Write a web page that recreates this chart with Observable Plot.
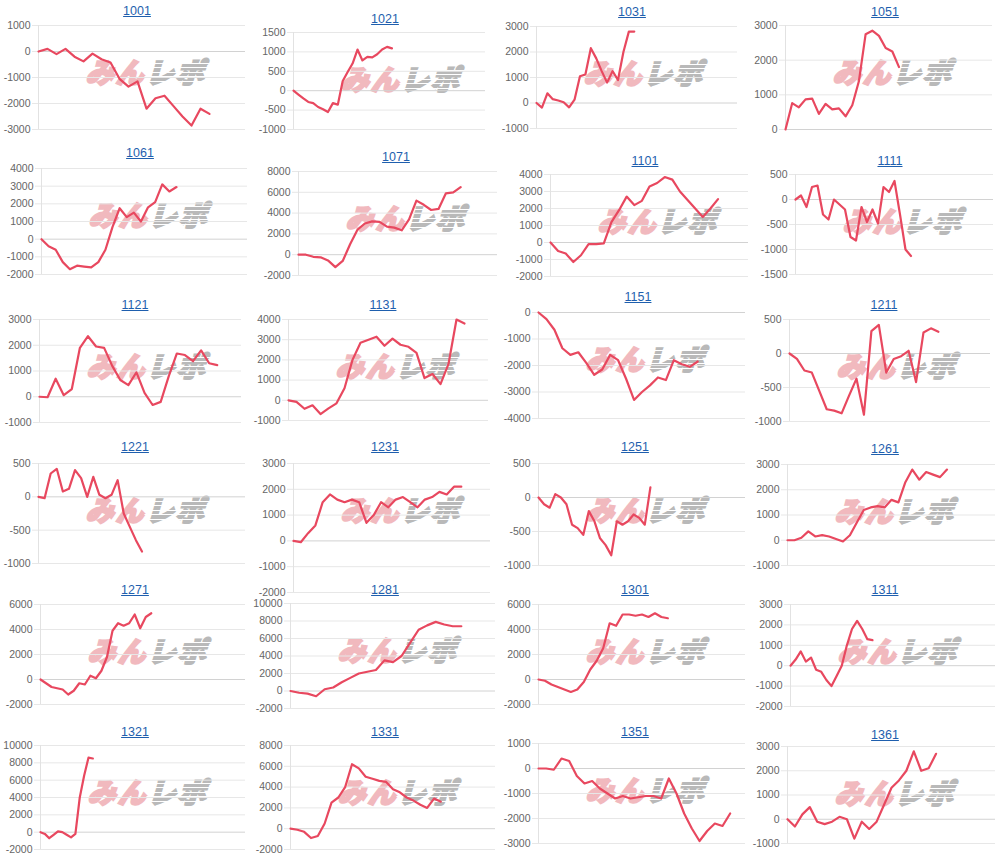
<!DOCTYPE html>
<html><head><meta charset="utf-8">
<script src="https://cdn.jsdelivr.net/npm/d3@7"></script>
<script src="https://cdn.jsdelivr.net/npm/@observablehq/plot@0.6"></script>
<style>
body{margin:0;background:#fff;}
#root{position:relative;width:1000px;height:857px;overflow:hidden;font-family:"Liberation Sans",Arial,sans-serif;}
.title{position:absolute;transform:translate(-50%,-50%);color:#1f5fae;text-decoration:underline;font-size:12.5px;white-space:nowrap;z-index:3;}
.wm{position:absolute;transform:translate(-50%,-50%) skewX(-16deg);font-family:"Noto Sans CJK JP";font-weight:900;font-size:28px;white-space:nowrap;letter-spacing:2px;line-height:1;z-index:1;}
.wm .a{color:#f1b9be;-webkit-text-stroke:2.2px #f1b9be;}
.wm .b{position:relative;display:inline-block;color:#b9b9b9;-webkit-text-stroke:2.2px #b9b9b9;}
.wm .b::after{content:"";position:absolute;left:-3px;right:-3px;top:2px;bottom:2px;background:repeating-linear-gradient(180deg,rgba(255,255,255,0) 0 3.6px,#fff 3.6px 4.6px);}
.plot{position:absolute;z-index:2;}
</style></head>
<body><div id="root"></div>
<script>
// ---- categories (panel names) ----
const names = ["1001","1021","1031","1051","1061","1071","1101","1111","1121","1131","1151","1211",
               "1221","1231","1251","1261","1271","1281","1301","1311","1321","1331","1351","1361"];

// ---- series values ----
const v1001 = [0,100,-100,100,-200,-380,-80,-300,-420,-1050,-1350,-1150,-2200,-1800,-1700,-2100,-2500,-2850,-2200,-2400];
const v1021 = [0,-100,-200,-290,-320,-420,-480,-550,-320,-360,250,480,700,1060,780,870,860,940,1060,1130,1090];
const v1031 = [0,-180,380,150,100,30,-170,130,1050,1120,2150,1750,1250,800,1250,900,2000,2800,2800];
const v1051 = [0,760,640,870,890,450,740,580,610,380,700,1400,2750,2850,2700,2350,2250,1800];
const v1061 = [0,-400,-600,-1300,-1700,-1500,-1550,-1600,-1300,-600,700,1750,1250,1500,1000,1800,2100,3100,2700,2950];
const v1071 = [0,0,-200,-250,-550,-1200,-600,1000,2400,3000,3200,3150,2700,2600,2350,3400,5200,4800,4300,4400,5900,6000,6500];
const v1101 = [0,-500,-650,-1150,-750,-100,-100,-50,1200,1900,2700,2200,2450,3300,3500,3850,3700,3000,2500,2000,1500,2000,2550];
const v1111 = [0,80,-150,250,280,-300,-400,0,-100,-200,-750,-820,-150,-450,-200,-480,250,150,370,-300,-1000,-1130];
const v1121 = [0,-20,700,60,300,1900,2350,1950,1900,1200,650,450,950,150,-320,-200,800,1680,1620,1380,1800,1300,1230];
const v1131 = [0,-80,-420,-250,-680,-400,-150,600,2000,2850,3000,3150,2700,3050,2750,2650,2350,1100,1300,800,1800,4000,3800];
const v1151 = [0,-250,-650,-1350,-1600,-1500,-1900,-2350,-2150,-1600,-1800,-2500,-3300,-3000,-2750,-2450,-2550,-1800,-1950,-2050,-1850];
const v1211 = [0,-80,-250,-280,-550,-820,-840,-880,-620,-370,-900,330,420,-280,-80,-40,40,-420,310,370,320];
const v1221 = [0,-20,350,420,80,120,400,280,0,300,30,-20,30,250,-250,-450,-650,-820];
const v1231 = [0,-50,300,600,1500,1800,1600,1500,1600,1500,700,1000,1500,1300,1600,1700,1500,1300,1600,1700,1900,1800,2100,2100];
const v1251 = [0,-100,-150,50,0,-100,-400,-450,-550,-200,-350,-600,-700,-850,-350,-400,-350,-250,-300,-400,150];
const v1261 = [0,0,100,350,150,200,150,50,-50,200,700,1200,1300,1350,1300,1600,1500,2300,2800,2400,2700,2600,2500,2800];
const v1271 = [0,-300,-600,-700,-800,-1200,-900,-300,-400,300,100,700,1800,3900,4500,4300,4500,5200,4100,5000,5300];
const v1281 = [0,-200,-300,-600,200,400,1000,1500,2000,2200,2400,3500,3300,4000,5500,7000,7500,7900,7600,7400,7400];
const v1301 = [0,-100,-400,-600,-800,-1000,-800,-200,800,1500,2500,4500,4300,5200,5200,5100,5200,5000,5300,5000,4900];
const v1311 = [0,300,700,200,400,-200,-300,-700,-1000,-500,0,1000,1800,2200,1800,1300,1250];
const v1321 = [0,-200,-700,-300,100,0,-300,-600,-200,4000,6500,8600,8500];
const v1331 = [0,-100,-300,-900,-700,500,2500,3000,4000,6200,5800,5000,4800,4600,4500,3800,3500,3000,2700,2300,2000,2900,2600];
const v1351 = [0,0,-50,400,300,-300,-600,-500,-800,-1000,-1200,-1100,-1200,-1150,-1100,-1100,-1200,-400,-1000,-1800,-2400,-2900,-2500,-2200,-2300,-1800];
const v1361 = [0,-300,200,500,-100,-200,-100,100,0,-800,-100,-400,-100,600,1300,1600,2000,2800,2000,2100,2700];

// number of x slots (category count - 1) of each chart
const xSlots = [23,39,37,31,29,27,26,36,25,25,26,27, 34,27,37,30,37,24,32,40,47,30,27,28];

// ---- y tick labels ----
const yTickMin  = [-3000,-1000,-1000,0,-2000,-2000,-2000,-1500,-1000,-1000,-4000,-1000, -1000,-2000,-1000,-1000,-2000,-2000,-2000,-2000,-2000,-2000,-3000,-1000];
const yTickMax  = [1000,1500,3000,3000,4000,8000,4000,500,3000,4000,0,500, 500,3000,500,3000,6000,10000,6000,3000,10000,8000,1000,3000];
const yTickStep = [1000,500,1000,1000,1000,2000,1000,500,1000,1000,1000,500, 500,1000,500,1000,2000,2000,2000,1000,2000,2000,1000,1000];

const seriesList = [v1001,v1021,v1031,v1051,v1061,v1071,v1101,v1111,v1121,v1131,v1151,v1211,
                    v1221,v1231,v1251,v1261,v1271,v1281,v1301,v1311,v1321,v1331,v1351,v1361];

// ---- layout (page pixels): title centre x,y ; plot left, right, top, bottom ----
const layout = [
  [137,11, 38,245,25,129],[385,19, 293,485,32,129],[632,12, 536,737,26,128],[885,12, 785,992,25,129],
  [140,153, 41,247,168,274],[396,157, 298,497,171,275],[645,161, 550,748,174,276],[890,161, 795,993,174,274],
  [135,305, 39,241,319,422],[383,305, 288,488,319,420],[638,297, 538,745,312,418],[884,305, 789,990,319,421],
  [135,447, 38,245,463,563],[385,447, 293,490,463,592],[635,447, 538,745,463,565],[885,449, 787,995,464,565],
  [135,590, 40,245,604,704],[385,590, 290,495,603,708],[635,590, 538,745,604,704],[885,590, 790,995,604,706],
  [135,732, 40,245,745,849],[385,732, 290,495,745,849],[635,732, 538,745,743,843],[885,735, 787,995,746,843]
];

const root = document.getElementById("root");
const mL = 45, mR = 2, mT = 4, mB = 4;

names.forEach((name, k) => {
  const [tx, ty, L, R, T, B] = layout[k];
  const ticks = d3.range(yTickMin[k], yTickMax[k] + yTickStep[k] / 2, yTickStep[k]);
  const data = seriesList[k].map((v, i) => ({i, v}));

  const t = document.createElement("div");
  t.className = "title"; t.textContent = name;
  t.style.left = tx + "px"; t.style.top = ty + "px";
  root.appendChild(t);

  const wm = document.createElement("div");
  wm.className = "wm";
  wm.innerHTML = '<span class="a">みん</span><span class="b">レポ</span>';
  wm.style.left = (L + 111) + "px"; wm.style.top = (T + 46) + "px";
  root.appendChild(wm);

  const svg = Plot.plot({
    width: R - L + mL + mR,
    height: B - T + mT + mB,
    marginLeft: mL, marginRight: mR, marginTop: mT, marginBottom: mB,
    style: {background: "transparent", overflow: "visible", fontFamily: "Liberation Sans, Arial, sans-serif", fontSize: "10.5px"},
    x: {domain: [0, xSlots[k]], axis: null},
    y: {domain: [yTickMin[k], yTickMax[k]], axis: null, label: null},
    marks: [
      Plot.ruleY(ticks.filter(d => d !== 0), {stroke: "#e7e7e7", strokeWidth: 1}),
      Plot.ruleY(ticks.filter(d => d === 0), {stroke: "#d2d2d2", strokeWidth: 1}),
      Plot.ruleX([0], {stroke: "#e2e2e2", strokeWidth: 1}),
      Plot.axisY(ticks, {tickSize: 6, tickPadding: 2, stroke: "#e7e7e7", fill: "#666", fontSize: 10.5, label: null, tickFormat: d => String(d)}),
      Plot.line(data, {x: "i", y: "v", stroke: "#e8485f", strokeWidth: 2.2, strokeLinejoin: "round"})
    ]
  });
  svg.classList.add("plot");
  svg.style.left = (L - mL) + "px";
  svg.style.top = (T - mT) + "px";
  root.appendChild(svg);
});
</script>
</body></html>
